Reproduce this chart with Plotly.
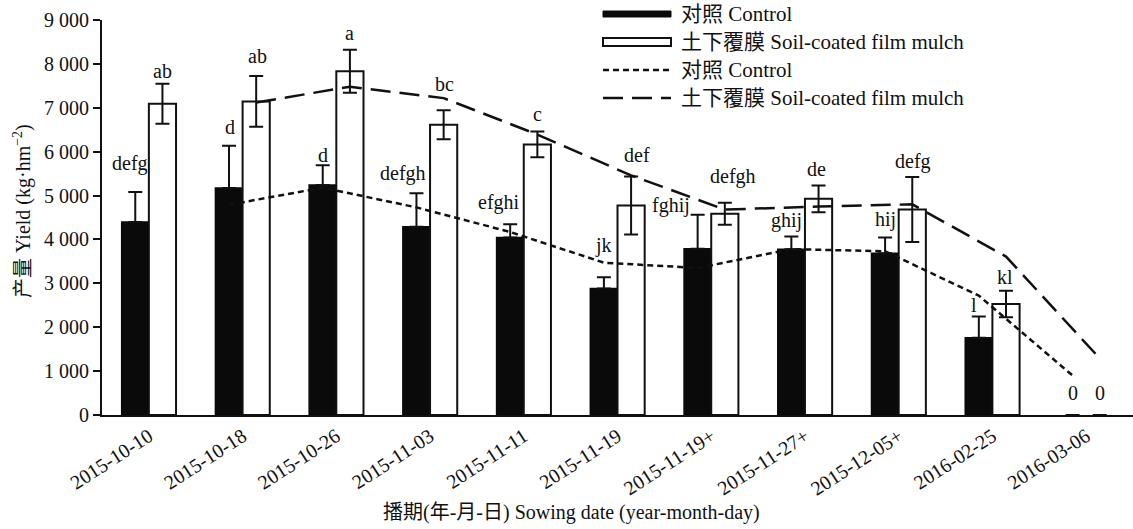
import plotly.graph_objects as go

categories = ["2015-10-10", "2015-10-18", "2015-10-26", "2015-11-03", "2015-11-11",
              "2015-11-19", "2015-11-19+", "2015-11-27+", "2015-12-05+", "2016-02-25", "2016-03-06"]
control = [4400, 5175, 5240, 4290, 4045, 2880, 3790, 3775, 3685, 1760, 0]
control_err = [680, 960, 450, 765, 300, 257, 770, 290, 360, 485, None]
film = [7090, 7145, 7835, 6615, 6165, 4775, 4585, 4925, 4680, 2530, 0]
film_err = [455, 580, 490, 330, 295, 660, 250, 305, 740, 300, None]
control_trend = [None, 4790, 5180, 4730, 4170, 3470, 3350, 3780, 3730, 2720, 900]
film_trend = [None, 7120, 7480, 7220, 6390, 5460, 4680, 4750, 4800, 3610, 1290]
control_letters = ["defg", "d", "d", "defgh", "efghi", "jk", "fghij", "ghij", "hij", "l", "0"]
film_letters = ["ab", "ab", "a", "bc", "c", "def", "defgh", "de", "defg", "kl", "0"]
y_tickvals = [0, 1000, 2000, 3000, 4000, 5000, 6000, 7000, 8000, 9000]
y_ticktext = ["0", "1 000", "2 000", "3 000", "4 000", "5 000", "6 000", "7 000", "8 000", "9 000"]

# styling / layout (not data)
W, H = 1133, 529
PL, PR, PT, PB = 102, 1133, 20, 415  # plot-area edges in page pixels
ML, MR, MT, MB = PL, W - PR, PT, H - PB
BW = 0.29
FONT = "Liberation Serif, Noto Sans CJK SC, serif"
FS = 20
ctrl_dy = [29, 19, 10, 20, 22, 32, 9, 16, 18, 11, 22]
ctrl_dx = [-5, 1, 0, -13, -11, 0, -27, -5, 0, -5, 0]
film_dy = [13, 20, 17, 26, 17, 21, 26, 16, 16, 14, 22]
film_dx = [0, 1, 0, 1, 0, 6, 8, -2, 1, -1, 0]

idx = list(range(len(categories)))
xc = [i - BW / 2 for i in idx]
xf = [i + BW / 2 for i in idx]


def err_top(v, e):
    return v + (e or 0)


fig = go.Figure()
fig.add_trace(go.Bar(x=idx, y=control, offset=-BW, width=BW, name="对照 Control",
                     marker=dict(color="#0a0a0a", opacity=[1 if v > 0 else 0 for v in control],
                                 line=dict(color="#0a0a0a", width=[1.5 if v > 0 else 0 for v in control])),
                     error_y=dict(type="data", array=control_err, symmetric=False,
                                  arrayminus=[0] * len(control), color="#111", thickness=2, width=7)))
fig.add_trace(go.Bar(x=idx, y=film, offset=0, width=BW, name="土下覆膜 Soil-coated film mulch",
                     marker=dict(color="white", opacity=[1 if v > 0 else 0 for v in film],
                                 line=dict(color="#111", width=[2 if v > 0 else 0 for v in film])),
                     error_y=dict(type="data", array=film_err, color="#111", thickness=2, width=7)))
fig.add_trace(go.Scatter(x=xc, y=control_trend, mode="lines", name="对照 Control",
                         line=dict(color="#111", width=2.5, dash="6px,4px")))
fig.add_trace(go.Scatter(x=xf, y=film_trend, mode="lines", name="土下覆膜 Soil-coated film mulch",
                         line=dict(color="#111", width=2.5, dash="20px,9px")))

ann = []
for i in idx:
    ann.append(dict(x=xc[i], y=err_top(control[i], control_err[i]), xref="x", yref="y", text=control_letters[i],
                    showarrow=False, yanchor="middle", xanchor="center", yshift=ctrl_dy[i], xshift=ctrl_dx[i],
                    font=dict(family=FONT, size=FS, color="#111")))
    ann.append(dict(x=xf[i], y=err_top(film[i], film_err[i]), xref="x", yref="y", text=film_letters[i],
                    showarrow=False, yanchor="middle", xanchor="center", yshift=film_dy[i], xshift=film_dx[i],
                    font=dict(family=FONT, size=FS, color="#111")))

pw, ph = PR - PL, PB - PT


def px(x):
    return (x - PL) / pw


def py(y):
    return (PB - y) / ph


# axis titles
ann.append(dict(x=px(22), y=py(211), xref="paper", yref="paper", text="产量 Yield (kg·hm<sup>−2</sup>)",
                textangle=-90, showarrow=False, xanchor="center", yanchor="middle",
                font=dict(family=FONT, size=FS, color="#111")))
ann.append(dict(x=px(571), y=py(512), xref="paper", yref="paper",
                text="播期(年-月-日) Sowing date (year-month-day)", showarrow=False,
                xanchor="center", yanchor="middle", font=dict(family=FONT, size=FS, color="#111")))

# manual legend
legend_names = ["对照 Control", "土下覆膜 Soil-coated film mulch", "对照 Control", "土下覆膜 Soil-coated film mulch"]
rows = [14, 42, 70, 98]
shapes = []
shapes.append(dict(type="rect", xref="paper", yref="paper", x0=px(603), x1=px(671), y0=py(17), y1=py(11),
                   fillcolor="#0a0a0a", line=dict(color="#0a0a0a", width=1)))
shapes.append(dict(type="rect", xref="paper", yref="paper", x0=px(603), x1=px(671), y0=py(46), y1=py(38),
                   fillcolor="white", line=dict(color="#111", width=2)))
shapes.append(dict(type="line", xref="paper", yref="paper", x0=px(603), x1=px(671), y0=py(70), y1=py(70),
                   line=dict(color="#111", width=2.5, dash="6px,4px")))
shapes.append(dict(type="line", xref="paper", yref="paper", x0=px(603), x1=px(671), y0=py(98), y1=py(98),
                   line=dict(color="#111", width=2.5, dash="20px,9px")))
for name, r in zip(legend_names, rows):
    ann.append(dict(x=px(679), y=py(r), xref="paper", yref="paper", text=name, showarrow=False,
                    xanchor="left", yanchor="middle", font=dict(family=FONT, size=FS + 1, color="#111")))

fig.update_layout(
    width=W, height=H, margin=dict(l=ML, r=MR, t=MT, b=MB, autoexpand=False),
    plot_bgcolor="white", paper_bgcolor="white", barmode="overlay", showlegend=False,
    font=dict(family=FONT, size=FS, color="#111"),
    annotations=ann, shapes=shapes,
    xaxis=dict(range=[-0.5, 10.5], tickvals=idx, ticktext=categories, tickangle=-33, ticks="",
               showline=True, linecolor="#111", linewidth=2, showgrid=False, zeroline=False,
               tickfont=dict(family=FONT, size=FS, color="#111"), fixedrange=True),
    yaxis=dict(range=[0, 9000], tickvals=y_tickvals, ticktext=y_ticktext, ticks="outside", ticklen=7,
               tickwidth=2, tickcolor="#111", showline=True, linecolor="#111", linewidth=2,
               showgrid=False, zeroline=False, tickfont=dict(family=FONT, size=FS, color="#111")),
)
fig.write_html("out.html", config={"displayModeBar": False},
               post_script="document.body.style.margin='0';document.body.style.padding='0';"
                           "document.body.style.overflow='hidden';")
